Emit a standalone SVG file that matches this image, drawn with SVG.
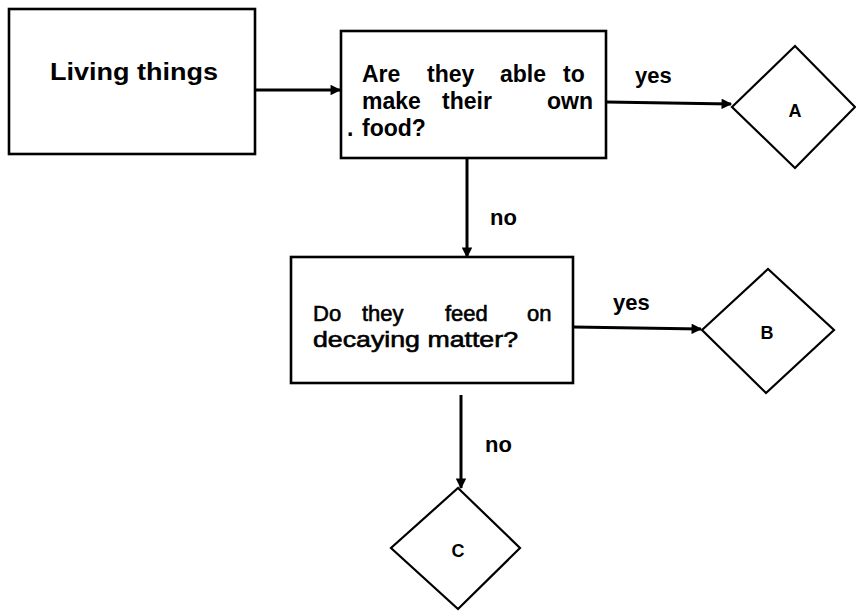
<svg xmlns="http://www.w3.org/2000/svg" width="856" height="611" viewBox="0 0 856 611">
<defs>
<marker id="ah" viewBox="0 0 10 10" refX="9" refY="5" markerWidth="4" markerHeight="3.5" orient="auto" markerUnits="strokeWidth">
<path d="M0,0 L10,5 L0,10 z" fill="#000"/>
</marker>
<style>
.box{fill:#fff;stroke:#000;stroke-width:2.6}
.dia{fill:#fff;stroke:#000;stroke-width:2.2}
.con{fill:none;stroke:#000;stroke-width:3;marker-end:url(#ah)}
.b{font-family:"Liberation Sans",Arial,sans-serif;font-weight:bold;font-size:23px;fill:#000}
.r{font-family:"Liberation Sans",Arial,sans-serif;font-size:22px;fill:#000;stroke:#000;stroke-width:0.6}
.lbl{font-family:"Liberation Sans",Arial,sans-serif;font-weight:bold;font-size:22px;fill:#000}
.let{font-family:"Liberation Sans",Arial,sans-serif;font-weight:bold;font-size:18px;fill:#000;text-anchor:middle}
</style>
</defs>
<rect width="856" height="611" fill="#fff"/>
<g id="connectors">
<line class="con" x1="255" y1="90" x2="340" y2="90"/>
<line class="con" x1="606" y1="102" x2="731" y2="104"/>
<line class="con" x1="467" y1="158" x2="467" y2="257"/>
<line class="con" x1="573" y1="327" x2="701" y2="329"/>
<line class="con" x1="461" y1="395" x2="461" y2="488"/>
<text class="lbl" x="635" y="83">yes</text>
<text class="lbl" x="490" y="225">no</text>
<text class="lbl" x="613" y="310">yes</text>
<text class="lbl" x="485" y="452">no</text>
</g>
<g id="living">
<rect class="box" x="9" y="9" width="246" height="145"/>
<text class="b" x="50" y="80" textLength="168" lengthAdjust="spacingAndGlyphs">Living things</text>
</g>
<g id="q1">
<rect class="box" x="341" y="31" width="265" height="127"/>
<text class="b" y="82"><tspan x="362">Are</tspan><tspan x="427">they</tspan><tspan x="500">able</tspan><tspan x="563">to</tspan></text>
<text class="b" y="109"><tspan x="362">make</tspan><tspan x="442">their</tspan><tspan x="547">own</tspan></text>
<text class="b" y="136"><tspan x="347">.</tspan><tspan x="362">food?</tspan></text>
</g>
<g id="q2">
<rect class="box" x="291" y="257" width="282" height="126"/>
<text class="r" y="321"><tspan x="313">Do</tspan><tspan x="362">they</tspan><tspan x="445">feed</tspan><tspan x="527">on</tspan></text>
<text class="r" x="313" y="347" textLength="205" lengthAdjust="spacingAndGlyphs">decaying matter?</text>
</g>
<g id="A">
<polygon class="dia" points="732,107 795,46 855,107 795,168"/>
<text class="let" x="795" y="117">A</text>
</g>
<g id="B">
<polygon class="dia" points="702,330 768,269 834,330 766,393"/>
<text class="let" x="767" y="339">B</text>
</g>
<g id="C">
<polygon class="dia" points="458,488 520,548 458,609 391,548"/>
<text class="let" x="458" y="557">C</text>
</g>
</svg>
